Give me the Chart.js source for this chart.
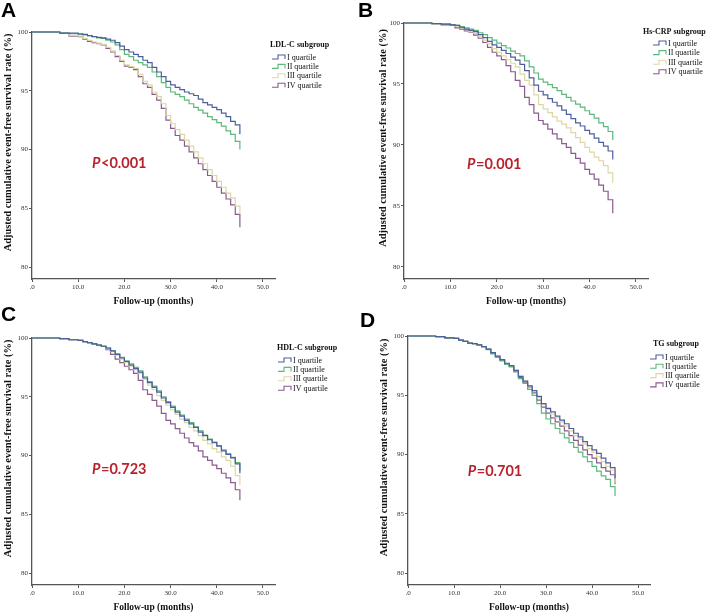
<!DOCTYPE html>
<html><head><meta charset="utf-8">
<script src="https://cdn.jsdelivr.net/npm/chart.js@4.4.0/dist/chart.umd.min.js"></script>
<style>
html,body{margin:0;padding:0;background:#fff;}
body{width:709px;height:614px;position:relative;overflow:hidden;}
.panel{position:absolute;width:354px;height:307px;}
</style></head><body>
<div class="panel" style="left:0;top:0"><canvas id="cA" width="354" height="307"></canvas></div>
<div class="panel" style="left:355px;top:0"><canvas id="cB" width="354" height="307"></canvas></div>
<div class="panel" style="left:0;top:307px"><canvas id="cC" width="354" height="307"></canvas></div>
<div class="panel" style="left:355px;top:307px"><canvas id="cD" width="354" height="307"></canvas></div>
<script>
// ---- data (follow-up months, adjusted survival %) ----
const months = [0, 6, 8, 10, 11, 12, 13, 14, 15, 16, 17, 18, 19, 20, 21, 22, 23, 24, 25, 26, 27, 28, 29, 30, 31, 32, 33, 34, 35, 36, 37, 38, 39, 40, 41, 42, 43, 44, 45];
const quartileLabels = ['I quartile', 'II quartile', 'III quartile', 'IV quartile'];
const xTickValues = [0, 10, 20, 30, 40, 50];
const yTickValues = [80, 85, 90, 95, 100];

const ldlI   = [100, 99.9, 99.9, 99.85, 99.8, 99.7, 99.6, 99.55, 99.5, 99.4, 99.3, 99.1, 98.8, 98.5, 98.3, 98.1, 97.9, 97.6, 97.4, 97.0, 96.6, 96.2, 95.8, 95.5, 95.3, 95.1, 94.9, 94.75, 94.6, 94.3, 94.0, 93.8, 93.6, 93.4, 93.1, 92.8, 92.4, 92.1, 91.3];
const ldlII  = [100, 99.9, 99.85, 99.8, 99.75, 99.7, 99.6, 99.5, 99.45, 99.3, 99.15, 98.9, 98.5, 98.1, 97.9, 97.6, 97.4, 97.2, 97.0, 96.6, 96.2, 95.7, 95.3, 94.9, 94.7, 94.5, 94.2, 93.9, 93.6, 93.35, 93.1, 92.8, 92.55, 92.3, 92.0, 91.6, 91.3, 90.7, 90.0];
const ldlIII = [100, 99.9, 99.7, 99.65, 99.45, 99.3, 99.15, 99.05, 98.95, 98.7, 98.4, 98.0, 97.6, 97.2, 97.05, 96.9, 96.4, 95.8, 95.5, 94.9, 94.5, 93.9, 92.9, 92.2, 91.7, 91.3, 90.8, 90.3, 89.8, 89.3, 88.8, 88.3, 87.8, 87.3, 86.8, 86.3, 85.9, 85.2, 84.5];
const ldlIV  = [100, 99.9, 99.65, 99.6, 99.4, 99.2, 99.1, 99.0, 98.9, 98.6, 98.3, 97.9, 97.5, 97.1, 97.0, 96.8, 96.2, 95.6, 95.3, 94.7, 94.2, 93.5, 92.5, 91.8, 91.2, 90.8, 90.3, 89.8, 89.3, 88.8, 88.3, 87.8, 87.3, 86.8, 86.3, 85.8, 85.3, 84.5, 83.4];

const crpI   = [100, 99.95, 99.9, 99.85, 99.8, 99.65, 99.5, 99.4, 99.3, 99.05, 98.8, 98.5, 98.2, 98.0, 97.75, 97.5, 97.2, 96.95, 96.6, 96.1, 95.5, 94.9, 94.4, 94.1, 93.8, 93.5, 93.2, 92.85, 92.5, 92.15, 91.8, 91.55, 91.2, 90.9, 90.55, 90.2, 89.9, 89.5, 88.8];
const crpII  = [100, 99.95, 99.9, 99.85, 99.8, 99.7, 99.6, 99.5, 99.4, 99.2, 99.05, 98.8, 98.6, 98.35, 98.15, 97.95, 97.7, 97.5, 97.3, 96.9, 96.4, 95.9, 95.4, 95.15, 94.95, 94.7, 94.45, 94.15, 93.9, 93.6, 93.35, 93.1, 92.8, 92.5, 92.2, 91.8, 91.5, 91.1, 90.4];
const crpIII = [100, 99.95, 99.9, 99.85, 99.75, 99.6, 99.45, 99.3, 99.15, 98.9, 98.6, 98.3, 97.9, 97.6, 97.3, 97.0, 96.7, 96.4, 95.8, 95.3, 94.9, 94.1, 93.3, 92.95, 92.65, 92.3, 91.95, 91.7, 91.4, 91.0, 90.6, 90.2, 89.8, 89.4, 89.0, 88.7, 88.3, 87.7, 86.9];
const crpIV  = [100, 99.95, 99.85, 99.8, 99.6, 99.5, 99.35, 99.25, 99.0, 98.75, 98.4, 98.0, 97.6, 97.3, 97.0, 96.5, 96.0, 95.3, 94.8, 93.9, 93.3, 92.6, 92.0, 91.7, 91.3, 90.9, 90.5, 90.1, 89.8, 89.3, 88.9, 88.5, 88.0, 87.6, 87.2, 86.7, 86.2, 85.5, 84.4];

const hdlI   = [100, 99.95, 99.85, 99.8, 99.7, 99.6, 99.5, 99.4, 99.3, 99.15, 98.9, 98.6, 98.3, 98.0, 97.7, 97.4, 97.1, 96.6, 96.2, 95.8, 95.4, 94.9, 94.5, 94.1, 93.7, 93.35, 93.0, 92.7, 92.4, 92.0, 91.7, 91.35, 91.1, 90.8, 90.4, 90.1, 89.8, 89.3, 88.5];
const hdlII  = [100, 99.95, 99.85, 99.8, 99.7, 99.6, 99.5, 99.4, 99.3, 99.15, 98.9, 98.65, 98.35, 98.05, 97.8, 97.5, 97.2, 96.7, 96.3, 95.9, 95.5, 95.0, 94.6, 94.2, 93.8, 93.45, 93.1, 92.8, 92.45, 92.1, 91.75, 91.4, 91.15, 90.85, 90.5, 90.15, 89.85, 89.4, 88.7];
const hdlIII = [100, 99.95, 99.85, 99.8, 99.7, 99.6, 99.5, 99.4, 99.3, 99.1, 98.85, 98.55, 98.2, 97.9, 97.6, 97.3, 97.0, 96.5, 96.0, 95.6, 95.1, 94.7, 94.3, 93.9, 93.5, 93.1, 92.8, 92.4, 92.1, 91.7, 91.3, 91.0, 90.6, 90.3, 89.9, 89.6, 89.1, 88.3, 87.5];
const hdlIV  = [100, 99.95, 99.85, 99.8, 99.7, 99.6, 99.5, 99.4, 99.3, 99.0, 98.6, 98.2, 97.9, 97.6, 97.3, 97.0, 96.4, 95.6, 95.2, 94.7, 94.2, 93.6, 93.0, 92.7, 92.3, 91.9, 91.5, 91.1, 90.8, 90.4, 89.9, 89.6, 89.2, 88.9, 88.5, 88.1, 87.7, 87.1, 86.2];

const tgI    = [100, 99.95, 99.85, 99.8, 99.65, 99.55, 99.4, 99.35, 99.25, 99.1, 98.9, 98.6, 98.3, 98.0, 97.7, 97.5, 97.1, 96.6, 96.2, 95.8, 95.4, 94.9, 94.3, 93.9, 93.6, 93.25, 92.9, 92.6, 92.2, 91.8, 91.5, 91.1, 90.75, 90.4, 90.1, 89.7, 89.3, 88.9, 88.0];
const tgII   = [100, 99.95, 99.85, 99.8, 99.65, 99.55, 99.4, 99.35, 99.25, 99.1, 98.85, 98.5, 98.2, 97.9, 97.6, 97.4, 97.0, 96.4, 96.0, 95.5, 95.0, 94.3, 93.5, 93.0, 92.6, 92.2, 91.8, 91.4, 91.0, 90.6, 90.2, 89.8, 89.4, 89.0, 88.6, 88.2, 87.9, 87.3, 86.5];
const tgIII  = [100, 99.95, 99.85, 99.8, 99.65, 99.55, 99.4, 99.35, 99.25, 99.1, 98.9, 98.6, 98.3, 98.0, 97.7, 97.5, 97.1, 96.6, 96.2, 95.8, 95.4, 94.8, 94.2, 93.8, 93.4, 93.1, 92.75, 92.4, 92.0, 91.6, 91.3, 90.9, 90.5, 90.2, 89.8, 89.4, 89.0, 88.7, 87.6];
const tgIV   = [100, 99.95, 99.85, 99.8, 99.65, 99.55, 99.4, 99.35, 99.25, 99.1, 98.9, 98.55, 98.25, 97.95, 97.65, 97.45, 97.0, 96.5, 96.1, 95.7, 95.2, 94.6, 94.0, 93.5, 93.1, 92.75, 92.4, 92.0, 91.6, 91.2, 90.8, 90.4, 90.0, 89.7, 89.3, 88.9, 88.6, 88.3, 87.5];

// ---- styles ----
const seriesColors = ['#4c5e9d', '#5cb87b', '#dcd8a6', '#8a5a8d'];
const SERIF = '"Liberation Serif", "Times New Roman", serif';
const AXIS_COLOR = '#555';
Chart.defaults.font.family = SERIF;

const decorPlugin = {
  id: 'decor',
  afterDraw(chart, args, o) {
    const ctx = chart.ctx, ca = chart.chartArea;
    ctx.save();
    // panel letter
    ctx.fillStyle = '#000';
    ctx.textAlign = 'left';
    ctx.textBaseline = 'alphabetic';
    ctx.font = 'bold 21px "Liberation Sans", Arial, sans-serif';
    ctx.fillText(o.letter, o.letterX, o.letterY);
    // y-axis title
    ctx.save();
    ctx.translate(o.yTitleX, (ca.top + ca.bottom) / 2 - 13);
    ctx.rotate(-Math.PI / 2);
    ctx.font = 'bold 10.4px ' + SERIF;
    ctx.textAlign = 'center';
    ctx.textBaseline = 'middle';
    ctx.fillStyle = '#111';
    ctx.fillText('Adjusted cumulative event-free survival rate (%)', 0, 0);
    ctx.restore();
    // legend
    ctx.font = 'bold 8px ' + SERIF;
    ctx.textBaseline = 'middle';
    ctx.fillStyle = '#111';
    ctx.fillText(o.legendTitle, o.lgTitleX, o.lgTitleY);
    ctx.font = '8px ' + SERIF;
    chart.data.datasets.forEach((ds, i) => {
      const y = o.lgItemY + i * o.lgDy;
      const x0 = o.lgIconX;
      ctx.strokeStyle = ds.borderColor;
      ctx.lineWidth = 1.1;
      ctx.beginPath();
      ctx.moveTo(x0, y + 2);
      ctx.lineTo(x0 + 6, y + 2);
      ctx.lineTo(x0 + 6, y - 2);
      ctx.lineTo(x0 + 13, y - 2);
      ctx.lineTo(x0 + 13, y + 2);
      ctx.stroke();
      ctx.fillStyle = '#111';
      ctx.fillText(ds.label, x0 + 15, y + 0.5);
    });
    // P value annotation (anchored in data space)
    const px = chart.scales.x.getPixelForValue(o.pAt[0]);
    const py = chart.scales.y.getPixelForValue(o.pAt[1]);
    ctx.fillStyle = '#b8232b';
    ctx.textBaseline = 'middle';
    ctx.font = 'italic bold 14.5px Lato, "Open Sans", sans-serif';
    ctx.fillText('P', px, py);
    const w = ctx.measureText('P').width;
    ctx.font = 'bold 14.5px Lato, "Open Sans", sans-serif';
    ctx.fillText(o.pText, px + w + 0.5, py);
    ctx.restore();
  }
};

function makePanel(id, series, o) {
  const datasets = series.map((vals, i) => ({
    label: quartileLabels[i],
    data: months.map((m, j) => ({ x: m, y: vals[j] })),
    borderColor: seriesColors[i],
    backgroundColor: seriesColors[i],
    borderWidth: 1.2,
    pointRadius: 0,
    stepped: 'before',
    fill: false,
    clip: 4
  }));
  const tickFont = { size: 7, family: SERIF };
  new Chart(document.getElementById(id), {
    type: 'line',
    data: { datasets },
    plugins: [decorPlugin],
    options: {
      responsive: false,
      animation: false,
      events: [],
      layout: { padding: { left: 0, top: o.padTop, right: o.padRight, bottom: 0 } },
      plugins: { legend: { display: false }, tooltip: { enabled: false }, decor: o },
      scales: {
        x: {
          type: 'linear', min: 0, max: 52.6,
          afterBuildTicks: s => { s.ticks = xTickValues.map(v => ({ value: v })); },
          afterFit: s => { s.height = o.xH; },
          ticks: { font: tickFont, color: '#333', padding: 1, maxRotation: 0, autoSkip: false,
                   callback: v => v === 0 ? '.0' : Number(v).toFixed(1) },
          grid: { drawOnChartArea: false, drawTicks: true, tickLength: 3, color: AXIS_COLOR, lineWidth: 1 },
          border: { display: true, color: AXIS_COLOR, width: 1.3 },
          title: { display: true, text: 'Follow-up (months)', color: '#111',
                   font: { size: 9.5, weight: 'bold', family: SERIF },
                   padding: { top: 0, bottom: o.xTitlePad } }
        },
        y: {
          type: 'linear', min: 79, max: 100,
          afterBuildTicks: s => { s.ticks = yTickValues.map(v => ({ value: v })); },
          afterFit: s => { s.width = o.yW; },
          ticks: { font: tickFont, color: '#333', padding: 1, callback: v => String(v) },
          grid: { drawOnChartArea: false, drawTicks: true, tickLength: 3, color: AXIS_COLOR, lineWidth: 1 },
          border: { display: true, color: AXIS_COLOR, width: 1.3 }
        }
      }
    }
  });
}

makePanel('cA', [ldlI, ldlII, ldlIII, ldlIV], {
  letter: 'A', letterX: 1, letterY: 17, yTitleX: 8.5,
  padTop: 32, padRight: 79, yW: 32, xH: 28, xTitlePad: 0,
  legendTitle: 'LDL-C subgroup', lgTitleX: 270, lgTitleY: 45, lgIconX: 272, lgItemY: 57, lgDy: 9.4,
  pText: '<0.001', pAt: [13, 88.85]
});
makePanel('cB', [crpI, crpII, crpIII, crpIV], {
  letter: 'B', letterX: 3, letterY: 17, yTitleX: 28,
  padTop: 23, padRight: 61, yW: 49, xH: 28, xTitlePad: 0,
  legendTitle: 'Hs-CRP subgroup', lgTitleX: 288, lgTitleY: 32, lgIconX: 298, lgItemY: 43, lgDy: 9.6,
  pText: '=0.001', pAt: [13.6, 88.4]
});
makePanel('cC', [hdlI, hdlII, hdlIII, hdlIV], {
  letter: 'C', letterX: 1, letterY: 14, yTitleX: 8.5,
  padTop: 31, padRight: 79, yW: 32, xH: 29, xTitlePad: 1,
  legendTitle: 'HDL-C subgroup', lgTitleX: 277, lgTitleY: 41, lgIconX: 278, lgItemY: 53, lgDy: 9.4,
  pText: '=0.723', pAt: [13, 88.8]
});
makePanel('cD', [tgI, tgII, tgIII, tgIV], {
  letter: 'D', letterX: 5, letterY: 20, yTitleX: 29,
  padTop: 29, padRight: 59, yW: 53, xH: 29, xTitlePad: 1,
  legendTitle: 'TG subgroup', lgTitleX: 298, lgTitleY: 37, lgIconX: 295, lgItemY: 50, lgDy: 9.3,
  pText: '=0.701', pAt: [13, 88.6]
});
</script>
</body></html>
